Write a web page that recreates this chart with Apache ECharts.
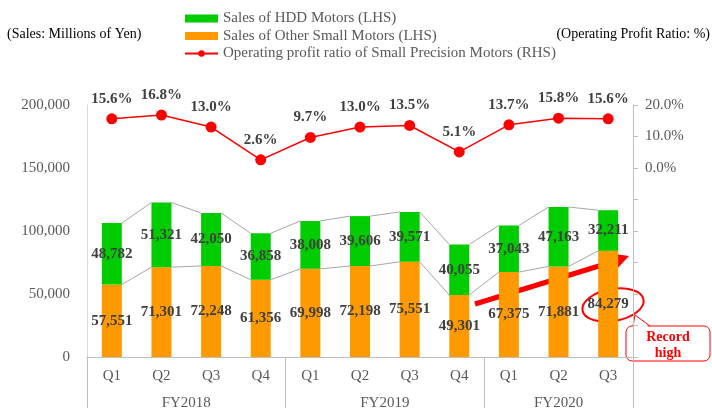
<!DOCTYPE html>
<html lang="en">
	<head>
		<meta charset="UTF-8" />
		<title>Small Precision Motors</title>
		<script src="https://cdn.jsdelivr.net/npm/echarts@6/dist/echarts.min.js"></script>
		<style>
			html, body { margin: 0; padding: 0; background: #fff; }
			#chart { width: 712px; height: 408px; }
		</style>
	</head>
	<body>
		<div id="chart"></div>
		<script>
			const quarters = ['Q1', 'Q2', 'Q3', 'Q4', 'Q1', 'Q2', 'Q3', 'Q4', 'Q1', 'Q2', 'Q3']
			const fiscalYears = ['FY2018', 'FY2019', 'FY2020']
			const quartersPerYear = [4, 4, 3]
			const hddSales = [48782, 51321, 42050, 36858, 38008, 39606, 39571, 40055, 37043, 47163, 32211]
			const otherSales = [57551, 71301, 72248, 61356, 69998, 72198, 75551, 49301, 67375, 71881, 84279]
			const profitRatio = [15.6, 16.8, 13.0, 2.6, 9.7, 13.0, 13.5, 5.1, 13.7, 15.8, 15.6]

			const FONT = 'Liberation Serif, Times New Roman, serif'
			const BAR_W = 20
			const totals = otherSales.map((v, i) => v + hddSales[i])

			// group boundaries and centres for the fiscal-year row
			const bounds = [0]
			quartersPerYear.forEach((n) => bounds.push(bounds[bounds.length - 1] + n))
			const centres = fiscalYears.map((_, i) => (bounds[i] + bounds[i + 1]) / 2)

			const chart = echarts.init(document.getElementById('chart'))

			const barLabel = {
				show: true,
				position: 'inside',
				color: '#404040',
				fontFamily: FONT,
				fontWeight: 'bold',
				fontSize: 15,
				formatter: (p) => p.value.toLocaleString('en-US')
			}

			const option = {
				animation: false,
				textStyle: { fontFamily: FONT },
				title: [
					{ text: '(Sales: Millions of Yen)', left: 2, top: 22, textStyle: { fontFamily: FONT, fontSize: 14, fontWeight: 'normal', color: '#000' } },
					{ text: '(Operating Profit Ratio: %)', right: -3, top: 22, textStyle: { fontFamily: FONT, fontSize: 14, fontWeight: 'normal', color: '#000' } }
				],
				legend: {
					orient: 'vertical',
					left: 184,
					top: 10,
					padding: 0,
					itemWidth: 33,
					itemHeight: 8,
					itemGap: 0.5,
					textStyle: { fontFamily: FONT, fontSize: 15, color: '#595959', lineHeight: 17 },
					data: [
						{ name: 'Sales of HDD Motors (LHS)', icon: 'rect' },
						{ name: 'Sales of Other Small Motors (LHS)', icon: 'rect' },
						{ name: 'Operating profit ratio of Small Precision Motors (RHS)' }
					]
				},
				grid: { left: 87, right: 79, top: 105, bottom: 51, outerBoundsMode: 'none' },
				xAxis: [
					{
						type: 'category',
						data: quarters,
						axisLine: { onZero: false, lineStyle: { color: '#BFBFBF' } },
						axisTick: { show: false },
						axisLabel: { color: '#595959', fontSize: 15, fontFamily: FONT, margin: 12 }
					},
					{
						type: 'value',
						min: 0,
						max: bounds[bounds.length - 1],
						position: 'bottom',
						axisLine: { show: false, onZero: false },
						splitLine: { show: false },
						axisTick: { show: true, customValues: bounds, length: 51, lineStyle: { color: '#BFBFBF' } },
						axisLabel: {
							customValues: centres,
							color: '#595959',
							fontSize: 15,
							fontFamily: FONT,
							margin: 39,
							formatter: (v) => fiscalYears[centres.indexOf(v)] || ''
						}
					}
				],
				yAxis: [
					{
						type: 'value',
						min: 0,
						max: 200000,
						interval: 50000,
						axisLine: { show: true, lineStyle: { color: '#D9D9D9' } },
						axisTick: { show: false },
						splitLine: { show: false },
						axisLabel: { color: '#595959', fontSize: 15, fontFamily: FONT, margin: 17 }
					},
					{
						type: 'value',
						position: 'right',
						min: -60,
						max: 20,
						interval: 10,
						axisLine: { show: true, lineStyle: { color: '#BFBFBF' } },
						axisTick: { show: true, length: 5, lineStyle: { color: '#BFBFBF' } },
						splitLine: { show: false },
						axisLabel: {
							color: '#595959',
							fontSize: 15,
							fontFamily: FONT,
							margin: 12,
							formatter: (v) => (v >= 0 ? v.toFixed(1) + '%' : '')
						}
					}
				],
				series: [
					{
						name: 'Sales of Other Small Motors (LHS)',
						type: 'bar',
						stack: 'sales',
						barWidth: BAR_W,
						itemStyle: { color: '#FF9900' },
						label: barLabel,
						data: otherSales
					},
					{
						name: 'Sales of HDD Motors (LHS)',
						type: 'bar',
						stack: 'sales',
						barWidth: BAR_W,
						itemStyle: { color: '#00CC00' },
						label: barLabel,
						data: hddSales
					},
					{
						// series lines between bar tops
						type: 'custom',
						silent: true,
						z: 1,
						data: otherSales.slice(0, -1).map((v, i) => [i, v]),
						renderItem: function (params, api) {
							const i = params.dataIndex
							const style = { stroke: '#A6A6A6', lineWidth: 1 }
							const seg = (arr) => {
								const a = api.coord([i, arr[i]])
								const b = api.coord([i + 1, arr[i + 1]])
								return { type: 'line', shape: { x1: a[0] + BAR_W / 2, y1: a[1], x2: b[0] - BAR_W / 2, y2: b[1] }, style: style }
							}
							return { type: 'group', children: [seg(otherSales), seg(totals)] }
						}
					},
					{
						name: 'Operating profit ratio of Small Precision Motors (RHS)',
						type: 'line',
						yAxisIndex: 1,
						symbol: 'circle',
						symbolSize: 11,
						itemStyle: { color: '#FF0000' },
						lineStyle: { color: '#FF0000', width: 1.5 },
						label: {
							show: true,
							position: 'top',
							distance: 7,
							color: '#404040',
							fontFamily: FONT,
							fontWeight: 'bold',
							fontSize: 15,
							formatter: (p) => p.value.toFixed(1) + '%'
						},
						data: profitRatio
					}
				],
				graphic: [
					{
						type: 'line',
						shape: { x1: 475, y1: 304, x2: 612, y2: 262 },
						style: { stroke: '#FF0000', lineWidth: 5 }
					},
					{
						type: 'polygon',
						shape: { points: [[629, 256], [608, 253], [614, 272]] },
						style: { fill: '#FF0000' }
					},
					{
						type: 'ellipse',
						shape: { cx: 613, cy: 305, rx: 31, ry: 16 },
						rotation: 0.18,
						originX: 613,
						originY: 305,
						style: { fill: 'none', stroke: '#FF0000', lineWidth: 2 }
					},
					{
						type: 'rect',
						shape: { x: 626, y: 326, width: 84, height: 35, r: 6 },
						style: { fill: '#fff', stroke: '#FF0000', lineWidth: 1 }
					},
					{
						type: 'polygon',
						shape: { points: [[634, 327.5], [635, 315], [649, 327.5]] },
						style: { fill: '#fff' }
					},
					{
						type: 'polyline',
						shape: { points: [[633, 326], [635, 315], [650, 326]] },
						style: { stroke: '#FF0000', lineWidth: 1, fill: null }
					},
					{
						type: 'text',
						x: 668,
						y: 345,
						style: {
							text: 'Record\nhigh',
							align: 'center',
							verticalAlign: 'middle',
							fill: '#FF0000',
							font: 'bold 14px ' + FONT,
							lineHeight: 16
						}
					}
				]
			}
			chart.setOption(option)
		</script>
	</body>
</html>
